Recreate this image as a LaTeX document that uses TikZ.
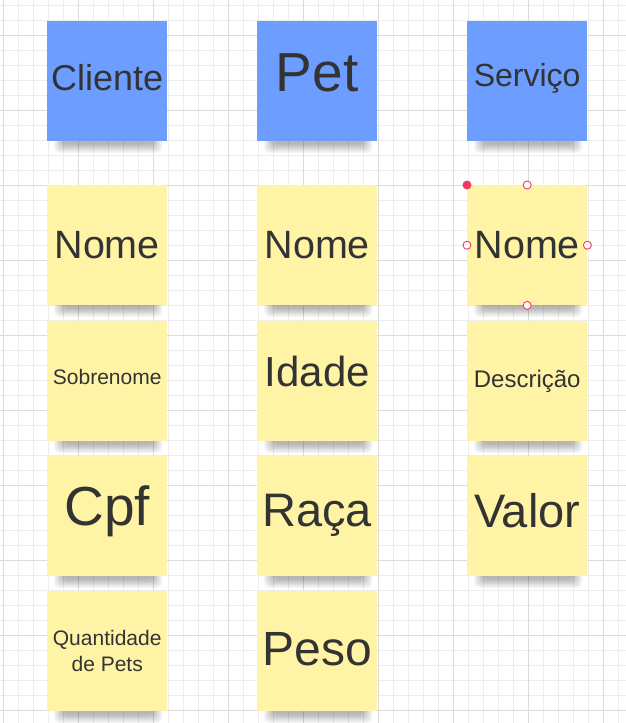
\documentclass[tikz,border=0pt]{standalone}
\usepackage{fontspec}
\setmainfont{Liberation Sans}
\usepackage{tikz}
\usepackage{xcolor}
\usetikzlibrary{backgrounds}

\definecolor{gridminor}{HTML}{EDEDED}
\definecolor{gridmajor}{HTML}{DCDCDC}
\definecolor{headblue}{HTML}{6C9DFF}
\definecolor{noteyellow}{HTML}{FFF4A6}
\definecolor{notetext}{HTML}{333333}
\definecolor{selred}{HTML}{F03A5F}
\newcommand{\notesize}[2]{\fontsize{#1}{#2}\selectfont}

\begin{document}
\begin{tikzpicture}[x=1pt, y=-1pt,
        note/.style={minimum width=120pt, minimum height=120pt, inner sep=0pt, anchor=north west, text=notetext},
        header/.style={note, fill=headblue},
        sticky/.style={note, fill=noteyellow},
        lift/.style={text height=#1pt, text depth=0pt},
        handle/.style={circle, draw=selred, fill=white, line width=0.9pt, minimum size=8pt, inner sep=0pt},
        corner/.style={circle, fill=selred, minimum size=9pt, inner sep=0pt}]
            \useasboundingbox (0,0) rectangle (626,723);
            % header notes
            \node[header, lift=18, font=\notesize{36}{43}] (cliente) at (47,21) {Cliente};
            \node[header, lift=20, font=\notesize{55}{66}] (pet) at (257,21) {Pet};
            \node[header, lift=10, font=\notesize{32}{38}] (servico) at (467,21) {Serviço};
            % cliente column
            \node[sticky, lift=27, font=\notesize{39.5}{47}] (cliNome) at (47,185) {Nome};
            \node[sticky, lift=7, font=\notesize{21}{26}] (cliSobrenome) at (47,321) {Sobrenome};
            \node[sticky, lift=18, font=\notesize{55}{66}] (cliCpf) at (47,456) {Cpf};
            \node[sticky, align=center, font=\notesize{21}{26}] (cliPets) at (47,591) {Quantidade\\de Pets};
            % pet column
            \node[sticky, lift=27, font=\notesize{39.5}{47}] (petNome) at (257,185) {Nome};
            \node[sticky, lift=11, font=\notesize{42}{50}] (petIdade) at (257,321) {Idade};
            \node[sticky, lift=21, font=\notesize{47}{56}] (petRaca) at (257,456) {Raça};
            \node[sticky, lift=28, font=\notesize{48}{58}] (petPeso) at (257,591) {Peso};
            % servico column
            \node[sticky, lift=27, font=\notesize{39.5}{47}] (srvNome) at (467,185) {Nome};
            \node[sticky, lift=12, font=\notesize{24}{29}] (srvDescricao) at (467,321) {Descrição};
            \node[sticky, lift=22, font=\notesize{47}{56}] (srvValor) at (467,456) {Valor};
            % selection handles
            \node[corner] (selNW) at (srvNome.north west) {};
            \node[handle] (selN) at (srvNome.north) {};
            \node[handle] (selW) at (srvNome.west) {};
            \node[handle] (selE) at (srvNome.east) {};
            \node[handle] (selS) at (srvNome.south) {};
            \begin{scope}[on background layer]
                \fill[white] (0,0) rectangle (626,723);
                \foreach \gx in {3,18,...,618} \draw[gridminor, line width=1pt] (\gx,0) -- (\gx,723);
                \foreach \gy in {5,20,...,710} \draw[gridminor, line width=1pt] (0,\gy) -- (626,\gy);
                \foreach \gx in {3,78,...,603} \draw[gridmajor, line width=1pt] (\gx,0) -- (\gx,723);
                \foreach \gy in {35,110,...,710} \draw[gridmajor, line width=1pt] (0,\gy) -- (626,\gy);
                % soft shadows under the notes
                \foreach \n in {cliente,pet,servico,cliNome,cliSobrenome,cliCpf,cliPets,petNome,petIdade,petRaca,petPeso,srvNome,srvDescricao,srvValor}
                    \foreach \r in {0,...,7}
                        \fill[black, opacity=0.04, rounded corners=5pt]
                            ([xshift=-44pt-1.3*\r pt, yshift=-3pt-1.2*\r pt]\n.south) rectangle ([xshift=46pt+1.3*\r pt, yshift=10pt]\n.south);
            \end{scope}
        \end{tikzpicture}
\end{document}
